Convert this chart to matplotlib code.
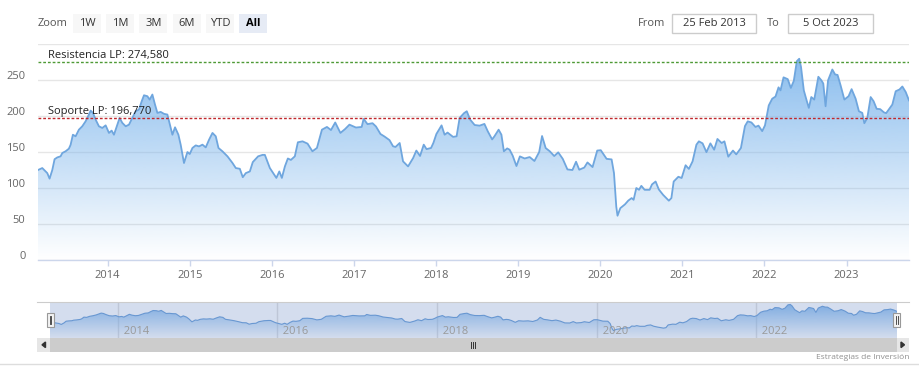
import numpy as np
import matplotlib
matplotlib.use("Agg")
import matplotlib.pyplot as plt
import matplotlib.transforms as mtransforms
from matplotlib.patches import Rectangle
from matplotlib.colors import LinearSegmentedColormap

plt.rcParams['font.family'] = ['Open Sans', 'DejaVu Sans']

# ---------------- data ----------------
years_dec = [
    2013.152, 2013.204, 2013.265, 2013.293, 2013.326, 2013.354, 2013.387, 2013.427, 2013.448, 2013.488,
    2013.528, 2013.549, 2013.577, 2013.610, 2013.650, 2013.691, 2013.732, 2013.772, 2013.793, 2013.821,
    2013.854, 2013.894, 2013.935, 2013.976, 2014.016, 2014.049, 2014.077, 2014.118, 2014.146, 2014.179,
    2014.220, 2014.260, 2014.301, 2014.341, 2014.382, 2014.415, 2014.443, 2014.484, 2014.512, 2014.545,
    2014.577, 2014.606, 2014.646, 2014.687, 2014.728, 2014.768, 2014.789, 2014.821, 2014.862, 2014.890,
    2014.930, 2014.972, 2015.000, 2015.033, 2015.073, 2015.113, 2015.155, 2015.195, 2015.235, 2015.277,
    2015.317, 2015.350, 2015.399, 2015.460, 2015.521, 2015.561, 2015.610, 2015.646, 2015.683, 2015.732,
    2015.768, 2015.833, 2015.887, 2015.915, 2015.976, 2016.055, 2016.091, 2016.122, 2016.159, 2016.195,
    2016.232, 2016.280, 2016.317, 2016.374, 2016.435, 2016.494, 2016.549, 2016.610, 2016.671, 2016.720,
    2016.772, 2016.835, 2016.893, 2016.945, 2017.024, 2017.094, 2017.118, 2017.165, 2017.226, 2017.268,
    2017.323, 2017.372, 2017.433, 2017.476, 2017.506, 2017.557, 2017.598, 2017.659, 2017.720, 2017.760,
    2017.805, 2017.850, 2017.884, 2017.939, 2017.967, 2018.004, 2018.067, 2018.104, 2018.140, 2018.207,
    2018.250, 2018.287, 2018.341, 2018.374, 2018.415, 2018.470, 2018.530, 2018.589, 2018.630, 2018.683,
    2018.711, 2018.762, 2018.796, 2018.826, 2018.866, 2018.896, 2018.933, 2018.979, 2019.021, 2019.079,
    2019.140, 2019.198, 2019.256, 2019.291, 2019.335, 2019.385, 2019.439, 2019.488, 2019.543, 2019.600,
    2019.661, 2019.705, 2019.744, 2019.805, 2019.844, 2019.906, 2019.963, 2020.006, 2020.077, 2020.138,
    2020.167, 2020.195, 2020.210, 2020.244, 2020.301, 2020.341, 2020.382, 2020.406, 2020.439, 2020.472,
    2020.500, 2020.540, 2020.601, 2020.630, 2020.674, 2020.713, 2020.765, 2020.835, 2020.866, 2020.894,
    2020.951, 2020.991, 2021.039, 2021.079, 2021.124, 2021.171, 2021.201, 2021.246, 2021.293, 2021.341,
    2021.387, 2021.427, 2021.478, 2021.512, 2021.559, 2021.616, 2021.656, 2021.713, 2021.762, 2021.796,
    2021.841, 2021.890, 2021.927, 2021.972, 2022.006, 2022.052, 2022.094, 2022.134, 2022.171, 2022.195,
    2022.232, 2022.283, 2022.321, 2022.357, 2022.394, 2022.423, 2022.445, 2022.479, 2022.516, 2022.540,
    2022.570, 2022.606, 2022.656, 2022.693, 2022.716, 2022.744, 2022.774, 2022.826, 2022.860, 2022.890,
    2022.927, 2022.973, 2023.024, 2023.061, 2023.110, 2023.150, 2023.191, 2023.216, 2023.252, 2023.293,
    2023.329, 2023.366, 2023.409, 2023.455, 2023.482, 2023.524, 2023.557, 2023.598, 2023.644, 2023.679,
    2023.720, 2023.760,
]
prices = [
    125.0, 127.7, 120.7, 113.0, 125.0, 140.0, 142.5, 144.0, 148.6, 151.0,
    154.6, 160.0, 174.0, 171.8, 181.0, 185.7, 192.7, 202.0, 207.5, 204.3,
    195.0, 185.7, 183.4, 187.0, 176.5, 179.7, 174.0, 188.0, 197.3, 190.4,
    185.7, 188.0, 197.3, 206.6, 209.0, 220.5, 228.8, 227.5, 222.8, 229.8,
    215.9, 204.3, 205.7, 203.0, 202.0, 183.4, 174.0, 184.3, 174.0, 160.0,
    134.7, 150.0, 147.2, 155.6, 159.2, 157.8, 160.2, 156.4, 167.0, 176.5,
    171.8, 155.6, 150.9, 143.9, 134.7, 127.7, 126.7, 115.0, 120.7, 123.0,
    136.0, 144.0, 146.0, 146.0, 127.7, 114.0, 123.0, 114.0, 130.0, 141.0,
    139.0, 144.0, 163.5, 164.8, 161.6, 151.0, 155.6, 181.0, 184.8, 180.5,
    191.0, 176.5, 182.0, 188.0, 184.0, 184.8, 196.0, 188.7, 190.0, 185.5,
    175.0, 171.5, 166.5, 158.0, 157.0, 162.5, 137.0, 130.0, 141.5, 152.0,
    144.5, 160.2, 154.0, 155.6, 162.5, 175.0, 187.0, 174.0, 177.0, 171.0,
    171.8, 197.3, 204.0, 206.6, 195.0, 187.5, 186.6, 189.0, 178.7, 167.5,
    171.8, 181.0, 174.0, 151.0, 155.0, 153.2, 145.0, 130.5, 143.9, 141.0,
    143.0, 137.5, 150.0, 172.2, 155.5, 151.0, 144.4, 149.5, 140.5, 125.8,
    125.0, 136.5, 125.4, 128.4, 135.5, 129.1, 152.0, 152.5, 140.5, 139.7,
    120.7, 74.0, 61.5, 72.0, 77.3, 82.5, 86.0, 83.6, 100.0, 97.5,
    103.0, 97.5, 97.5, 105.0, 109.0, 98.0, 90.5, 82.4, 86.0, 109.0,
    115.6, 113.9, 131.6, 126.5, 137.0, 160.2, 164.8, 162.0, 149.8, 162.0,
    153.2, 168.1, 162.5, 164.8, 143.5, 152.0, 146.7, 155.6, 186.0, 192.6,
    191.0, 184.8, 186.6, 179.0, 187.0, 214.7, 224.0, 227.0, 239.8, 235.6,
    253.7, 251.2, 239.0, 248.8, 276.2, 279.5, 268.0, 235.6, 220.5, 211.3,
    226.3, 222.8, 254.5, 249.5, 245.1, 213.5, 249.5, 264.6, 257.7, 257.0,
    242.5, 222.8, 227.5, 237.3, 224.0, 206.6, 204.3, 190.0, 197.3, 226.3,
    220.5, 210.0, 209.5, 205.0, 204.0, 210.6, 215.9, 234.4, 236.8, 241.0,
    233.3, 221.7,
]
resistance = 274.58
support = 196.77
resistance_label = "Resistencia LP: 274,580"
support_label = "Soporte LP: 196,770"
main_years = list(range(2014, 2024))
nav_years = [2014, 2016, 2018, 2020, 2022]
y_ticks = [0, 50, 100, 150, 200, 250, 300]
zoom_buttons = ["1W", "1M", "3M", "6M", "YTD", "All"]
date_from = "25 Feb 2013"
date_to = "5 Oct 2023"
credit = "Estrategias de Inversión"

x = np.array(years_dec)
y = np.array(prices)
x0, x1 = x[0], x[-1]

W, H = 920, 376
fig = plt.figure(figsize=(W / 100, H / 100), dpi=100)
fig.patch.set_facecolor("white")


def px_axes(l, t, r, b, **kw):
    return fig.add_axes([l / W, 1 - b / H, (r - l) / W, (b - t) / H], **kw)


grad_cmap = LinearSegmentedColormap.from_list(
    "g", [(124 / 255, 181 / 255, 236 / 255, 0.0), (124 / 255, 181 / 255, 236 / 255, 0.95)])


def gradient_area(ax, xs, ys, ymax, lw, lc):
    poly = ax.fill_between(xs, 0, ys, facecolor="none", edgecolor="none")
    grad = np.linspace(0, 1, 256).reshape(-1, 1)
    im = ax.imshow(grad, extent=[xs[0], xs[-1], 0, ymax], origin="lower",
                   aspect="auto", cmap=grad_cmap, zorder=1, interpolation="bilinear")
    path = poly.get_paths()[0]
    im.set_clip_path(path, transform=ax.transData)
    ax.plot(xs, ys, color=lc, lw=lw, zorder=3, solid_joinstyle="round")


# ---------------- main chart ----------------
ax = px_axes(38, 44, 909, 260)
ax.set_xlim(x0, x1)
ax.set_ylim(0, 300)
for s in ["top", "right", "left"]:
    ax.spines[s].set_visible(False)
ax.spines["bottom"].set_color("#ccd6eb")
ax.spines["bottom"].set_linewidth(1)
ax.set_yticks(y_ticks)
ax.set_yticklabels([str(v) if v < 300 else "" for v in y_ticks])
ax.yaxis.grid(True, color="#e6e6e6", lw=1)
ax.set_axisbelow(True)
ax.tick_params(axis="y", length=0, pad=9, labelsize=8, labelcolor="#666666")
ax.set_xticks(main_years)
ax.set_xticklabels([str(v) for v in main_years])
ax.tick_params(axis="x", length=4.5, width=1, color="#ccd6eb", pad=2.5,
               labelsize=8, labelcolor="#666666")
off = mtransforms.ScaledTranslation(0, 3.6 / 72, fig.dpi_scale_trans)
for lab in ax.get_yticklabels():
    lab.set_transform(lab.get_transform() + off)

gradient_area(ax, x, y, 300, 1.3, "#6fa6de")

ax.axhline(resistance, color="#4e9a36", lw=1.0, ls=(0, (2, 1.4)), zorder=4)
ax.axhline(support, color="#c0282d", lw=1.0, ls=(0, (2, 1.4)), zorder=4)
tx = mtransforms.blended_transform_factory(ax.transAxes, ax.transData)
ax.text(10 / 871, resistance + 2.2, resistance_label, transform=tx, fontsize=8,
        color="#222222", va="bottom", ha="left", zorder=5)
ax.text(10 / 871, support + 2.2, support_label, transform=tx, fontsize=8,
        color="#222222", va="bottom", ha="left", zorder=5)

# ---------------- navigator ----------------
nav = px_axes(50, 302, 897, 338)
nav.set_xlim(x0, x1)
nav.set_ylim(0, 300)
for s in nav.spines.values():
    s.set_visible(False)
nav.set_yticks([])
nav.set_xticks(nav_years)
nav.set_xticklabels([])
nav.tick_params(axis="x", length=0)
nav.xaxis.grid(True, color="#e0e0e0", lw=1)
nav.set_axisbelow(True)
gradient_area(nav, x, y, 300, 0.8, "#6a9fd8")
for yr in nav_years:
    nav.text(yr, 0.19, "  " + str(yr), transform=mtransforms.blended_transform_factory(nav.transData, nav.transAxes),
             fontsize=8, color="#999999", ha="left", va="center", zorder=6)
nav.add_patch(Rectangle((0, 0), 1, 1, transform=nav.transAxes, facecolor=(102 / 255, 133 / 255, 194 / 255, 0.28),
                        edgecolor="none", zorder=5))

# ---------------- overlay UI ----------------
ui = fig.add_axes([0, 0, 1, 1], facecolor="none")
ui.set_xlim(0, W)
ui.set_ylim(H, 0)
ui.axis("off")

ui.text(38, 23, "Zoom", fontsize=8, color="#555555", ha="left", va="center")
bx = 73
for lab in zoom_buttons:
    sel = lab == "All"
    ui.add_patch(Rectangle((bx, 13.5), 28, 19, facecolor="#e6ebf5" if sel else "#f7f7f7", edgecolor="none"))
    ui.text(bx + 14, 23, lab, fontsize=8, color="#000000" if sel else "#333333",
            fontweight="bold" if sel else "normal", ha="center", va="center")
    bx += 33.2

ui.text(665, 23, "From", fontsize=8, color="#555555", ha="right", va="center")
ui.add_patch(Rectangle((672.5, 13.5), 84, 19, facecolor="white", edgecolor="#cccccc", lw=1))
ui.text(714.5, 23, date_from, fontsize=8, color="#333333", ha="center", va="center")
ui.text(780, 23, "To", fontsize=8, color="#555555", ha="right", va="center")
ui.add_patch(Rectangle((788.5, 13.5), 85, 19, facecolor="white", edgecolor="#cccccc", lw=1))
ui.text(831, 23, date_to, fontsize=8, color="#333333", ha="center", va="center")

# navigator outline
ui.plot([37, 909], [302, 302], color="#cccccc", lw=0.8)
# handles
for hx in (47, 893.5):
    ui.add_patch(Rectangle((hx, 313), 7, 14, facecolor="#f2f2f2", edgecolor="#999999", lw=0.8, zorder=7))
    ui.plot([hx + 2.6, hx + 2.6], [316, 324], color="#333333", lw=0.6, zorder=8)
    ui.plot([hx + 4.4, hx + 4.4], [316, 324], color="#333333", lw=0.6, zorder=8)

# scrollbar
ui.add_patch(Rectangle((37, 338), 872, 13.5, facecolor="#f2f2f2", edgecolor="none"))
ui.add_patch(Rectangle((50, 338), 847, 13.5, facecolor="#cccccc", edgecolor="none"))
ui.add_patch(Rectangle((37, 338), 13, 13.5, facecolor="#e6e6e6", edgecolor="none"))
ui.add_patch(Rectangle((897, 338), 12, 13.5, facecolor="#e6e6e6", edgecolor="none"))
ui.fill([42, 45.5, 45.5], [344.8, 342, 347.6], color="#333333")
ui.fill([904.5, 901, 901], [344.8, 342, 347.6], color="#333333")
for gx in (471.5, 473.5, 475.5):
    ui.plot([gx, gx], [342, 347.5], color="#333333", lw=0.7)

ui.plot([0, W], [364, 364], color="#dddddd", lw=1)
ui.text(909, 357.5, credit, fontsize=6, color="#909090", ha="right", va="center")

fig.savefig("out.png", dpi=100, facecolor="white")
